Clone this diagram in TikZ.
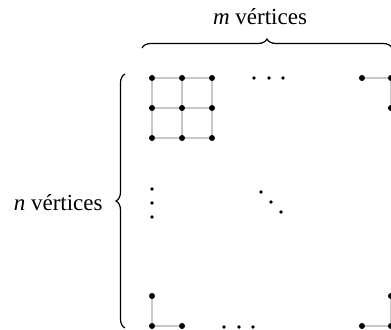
\documentclass[tikz,border=0pt]{standalone}
\usepackage{fontspec}
\setmainfont{Liberation Serif}
\usetikzlibrary{decorations.pathreplacing}
\definecolor{edgegray}{HTML}{C8C8C8}

\tikzset{
  vtx/.style={circle, fill=black, inner sep=0pt, minimum size=3pt},
  tinydot/.style={circle, fill=black, inner sep=0pt, minimum size=1.8pt},
  gridedge/.style={draw=edgegray, line width=1pt},
  bracket/.style={decorate, decoration={brace, amplitude=4.5pt}, line width=0.6pt},
  lbl/.style={font=\fontsize{11.5}{13}\selectfont, inner sep=0pt},
}

\begin{document}
\begin{tikzpicture}[x=0.5pt, y=0.5pt]
\useasboundingbox (0,0) rectangle (391,329);

% Corner grid (top left)
\foreach \i/\x in {1/152,2/182,3/212}
  \foreach \j/\y in {1/251,2/221,3/191}
    \node[vtx] (g\j\i) at (\x,\y) {};
\foreach \j in {1,2,3} {
  \draw[gridedge] (g\j1) -- (g\j2) -- (g\j3);
  \draw[gridedge] (g1\j) -- (g2\j) -- (g3\j);
}

% Top right corner
\node[vtx] (tr1) at (362,251) {};
\node[vtx] (tr2) at (391,251) {};
\node[vtx] (tr3) at (391,221) {};
\draw[gridedge] (tr1) -- (tr2) -- (tr3);

% Bottom left corner
\node[vtx] (bl1) at (152,33) {};
\node[vtx] (bl2) at (152,3) {};
\node[vtx] (bl3) at (182,3) {};
\draw[gridedge] (bl1) -- (bl2) -- (bl3);

% Bottom right corner
\node[vtx] (br1) at (362,3) {};
\node[vtx] (br2) at (391,3) {};
\node[vtx] (br3) at (391,33) {};
\draw[gridedge] (br1) -- (br2) -- (br3);

% Dots in between
\foreach \x [count=\k] in {254,269,283}
  \node[tinydot] (hdot\k) at (\x,251) {};
\foreach \x [count=\k] in {224,239,253}
  \node[tinydot] (bdot\k) at (\x,2) {};
\foreach \y [count=\k] in {140,126,112}
  \node[tinydot] (vdot\k) at (152,\y) {};
\foreach \x/\y [count=\k] in {261/137,271/127,281/117}
  \node[tinydot] (ddot\k) at (\x,\y) {};

% Braces and labels
\draw[bracket] (142,281) -- (392,281);
\node[lbl] (mlabel) at (260,312) {\textit{m} vértices};
\draw[bracket] (125,1) -- (125,255);
\node[lbl, anchor=east] (nlabel) at (103,126) {\textit{n} vértices};

\end{tikzpicture}
\end{document}
